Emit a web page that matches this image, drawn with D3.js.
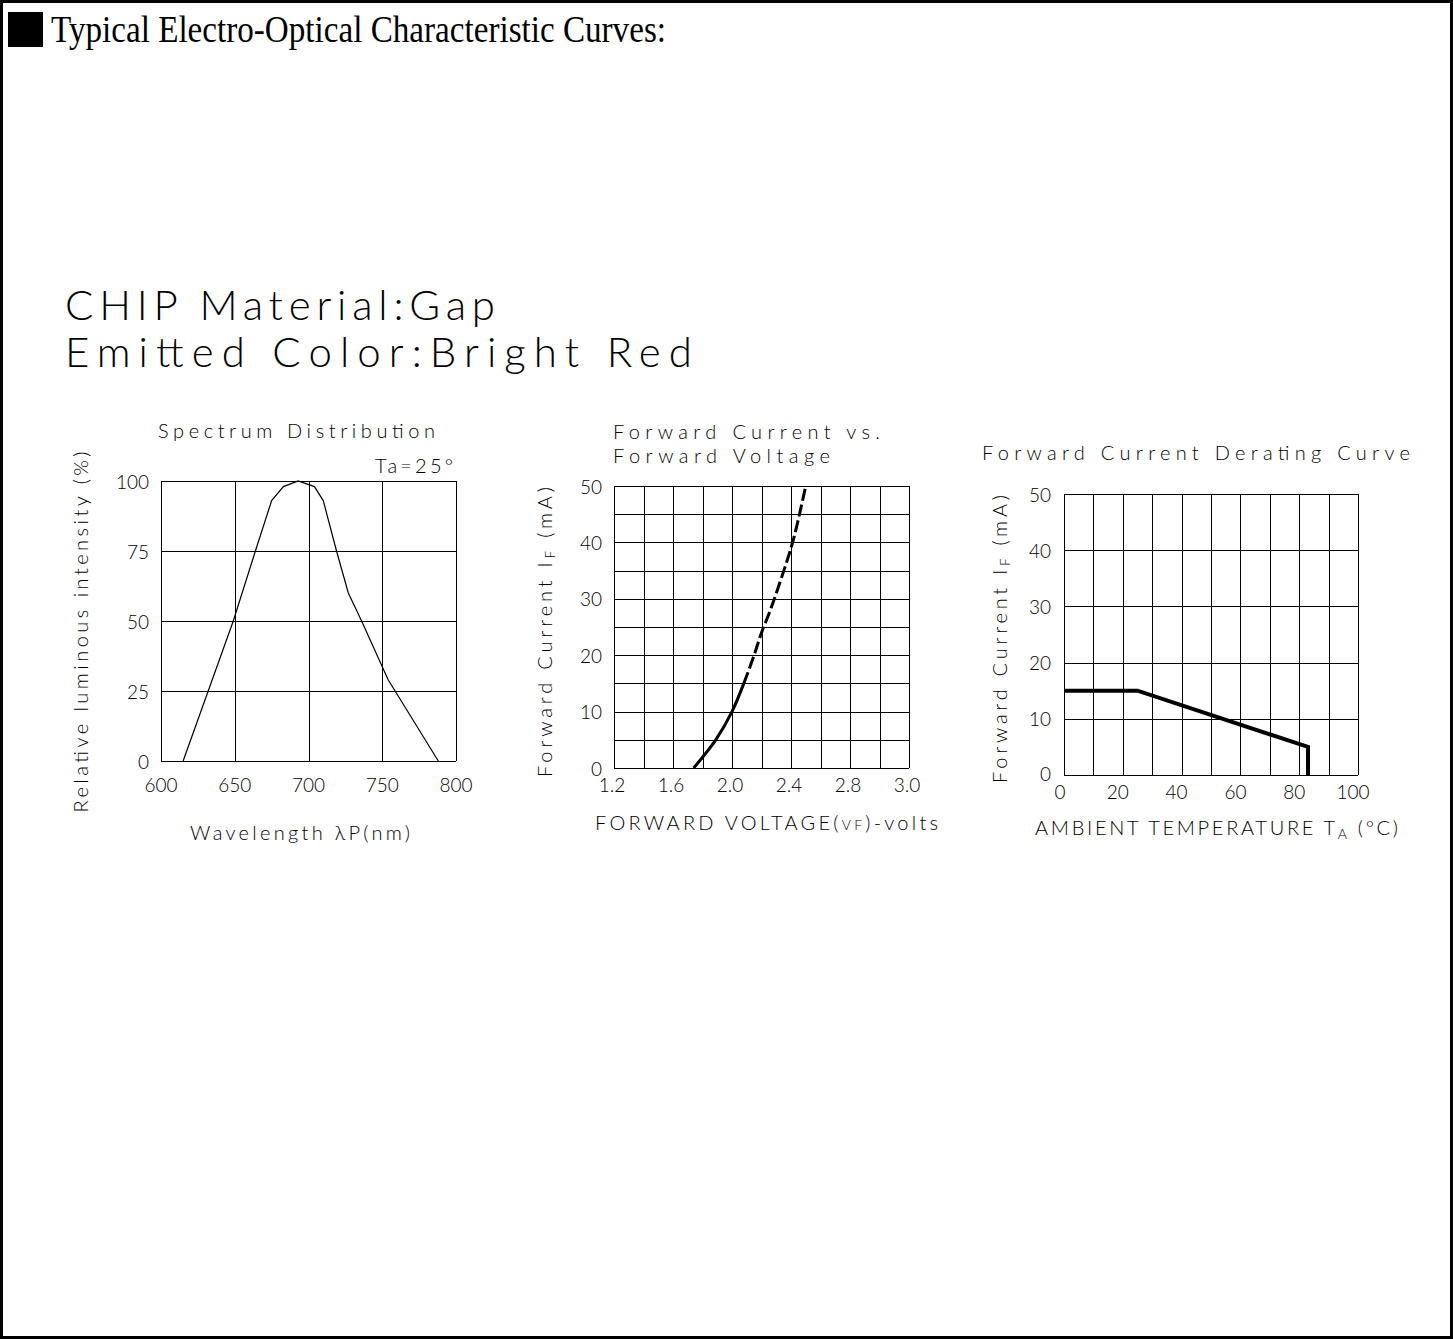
<!DOCTYPE html>
<html>
<head>
<meta charset="utf-8">
<script src="https://cdn.jsdelivr.net/npm/d3@7"></script>
<style>
  body { margin: 0; background: #fff; }
  svg { display: block; }
  .cad { font-family: Lato, "Open Sans", "DejaVu Sans", sans-serif; font-weight: 300; fill: #000; }
</style>
</head>
<body>
<svg id="page" width="1453" height="1339"></svg>
<script>
/* spectrum distribution */
const specWave = [615, 649, 664, 675, 683, 693, 704, 710, 719, 727, 736, 754, 788]
const specRel = [0, 50, 75, 93, 98, 100, 98, 93, 75, 60, 50, 29, 0]
const specXTicks = [600, 650, 700, 750, 800]
const specYTicks = [0, 25, 50, 75, 100]

/* forward current vs forward voltage */
const fvVolt = [1.74, 1.89, 2.0, 2.08, 2.15, 2.2, 2.26, 2.4, 2.44, 2.5]
const fvCurr = [0, 5, 10, 15, 20, 24, 28, 39, 43, 50]
const fvDashFrom = 3
const fvXGrid = [1.2, 1.4, 1.6, 1.8, 2.0, 2.2, 2.4, 2.6, 2.8, 3.0, 3.2]
const fvXLabels = ['1.2', '1.6', '2.0', '2.4', '2.8', '3.0']
const fvYGrid = [0, 5, 10, 15, 20, 25, 30, 35, 40, 45, 50]
const fvYLabels = [0, 10, 20, 30, 40, 50]

/* derating curve */
const drTemp = [0, 25, 83, 83]
const drCurr = [15, 15, 5, 0]
const drXGrid = [0, 10, 20, 30, 40, 50, 60, 70, 80, 90, 100]
const drXLabels = [0, 20, 40, 60, 80, 100]
const drYGrid = [0, 10, 20, 30, 40, 50]
const drYLabels = [0, 10, 20, 30, 40, 50]

const svg = d3.select('#page')
const TICK = 19

/* page frame + header */
svg.append('rect')
    .attr('x', 1.5).attr('y', 1.5)
    .attr('width', 1450).attr('height', 1336)
    .attr('fill', 'none').attr('stroke', '#000').attr('stroke-width', 3)

svg.append('rect')
    .attr('x', 8).attr('y', 12).attr('width', 35).attr('height', 35)
    .attr('fill', '#000')

svg.append('text')
    .attr('x', 51).attr('y', 42)
    .attr('font-family', '"Liberation Serif", "Times New Roman", serif')
    .attr('font-size', 38)
    .attr('textLength', 615)
    .attr('lengthAdjust', 'spacingAndGlyphs')
    .text('Typical Electro-Optical Characteristic Curves:')

/* chip text */
const chipLines = [['CHIP Material:Gap', 320, 430], ['Emitted Color:Bright Red', 367, 627]]
svg.selectAll('.chip')
    .data(chipLines)
    .join('text')
    .classed('cad', true)
    .attr('x', 65)
    .attr('y', d => d[1])
    .attr('font-size', 42)
    .attr('font-weight', 300)
    .attr('textLength', d => d[2])
    .attr('lengthAdjust', 'spacing')
    .text(d => d[0])

/* helper for cad-style text */
const label = (g, x, y, str, size, len, anchor) => {
    const t = g.append('text')
        .classed('cad', true)
        .attr('x', x).attr('y', y)
        .attr('font-size', size)
        .attr('text-anchor', anchor || 'start')
        .attr('dominant-baseline', 'central')
        .text(str)
    if (len) t.attr('textLength', len).attr('lengthAdjust', 'spacing')
    return t
}

/* grid + frame */
const drawGrid = (g, x, y, xs, ys) => {
    g.selectAll('.vg').data(xs).join('line').classed('vg', true)
        .attr('x1', d => Math.round(x(d)) + 0.5).attr('x2', d => Math.round(x(d)) + 0.5)
        .attr('y1', y.range()[0]).attr('y2', y.range()[1])
        .attr('stroke', '#000').attr('stroke-width', 1)
    g.selectAll('.hg').data(ys).join('line').classed('hg', true)
        .attr('y1', d => Math.round(y(d)) + 0.5).attr('y2', d => Math.round(y(d)) + 0.5)
        .attr('x1', x.range()[0]).attr('x2', x.range()[1])
        .attr('stroke', '#000').attr('stroke-width', 1)
}

/********** spectrum **********/
{
    const g = svg.append('g')
    const x = d3.scaleLinear().domain([600, 800]).range([161, 456])
    const y = d3.scaleLinear().domain([0, 100]).range([761, 481])
    drawGrid(g, x, y, specXTicks, specYTicks)

    g.append('path')
        .datum(d3.zip(specWave, specRel))
        .attr('d', d3.line().x(d => x(d[0])).y(d => y(d[1])))
        .attr('fill', 'none').attr('stroke', '#000').attr('stroke-width', 1.2)

    specYTicks.forEach(v => label(g, 149, y(v), String(v), TICK, null, 'end'))
    specXTicks.forEach(v => label(g, x(v), 784, String(v), TICK, null, 'middle'))

    label(g, 158, 430, 'Spectrum Distribution', 20, 277)
    label(g, 375, 465, 'Ta=25°', 20, 78)
    label(g, 190, 832, 'Wavelength λP(nm)', 20, 220)
    label(g, 0, 0, 'Relative luminous intensity (%)', 20, 361, 'middle')
        .attr('transform', 'translate(80,632) rotate(-90)')
}

/********** forward voltage **********/
{
    const g = svg.append('g')
    const x = d3.scaleLinear().domain([1.2, 3.2]).range([614, 909])
    const y = d3.scaleLinear().domain([0, 50]).range([768, 486])
    drawGrid(g, x, y, fvXGrid, fvYGrid)

    const pts = d3.zip(fvVolt, fvCurr)
    const line = d3.line().curve(d3.curveCatmullRom).x(d => x(d[0])).y(d => y(d[1]))
    g.append('path')
        .datum(pts.slice(0, fvDashFrom + 1))
        .attr('d', line)
        .attr('fill', 'none').attr('stroke', '#000').attr('stroke-width', 3)
    g.append('path')
        .datum(pts.slice(fvDashFrom))
        .attr('d', line)
        .attr('fill', 'none').attr('stroke', '#000').attr('stroke-width', 3)
        .attr('stroke-dasharray', '12,4')

    fvYLabels.forEach(v => label(g, 602, y(v), String(v), TICK, null, 'end'))
    fvXLabels.forEach((s, i) => label(g, x(1.2 + i * 0.4) - 2, 784, s, TICK, null, 'middle'))

    label(g, 613, 431, 'Forward Current vs.', 20, 267)
    label(g, 613, 455, 'Forward Voltage', 20, 217)
    const xt = label(g, 595, 822, 'FORWARD VOLTAGE(', 20, null)
    xt.append('tspan').attr('font-size', 14).attr('dy', 2).text('V')
    xt.append('tspan').attr('font-size', 14).text('F')
    xt.append('tspan').attr('dy', -2).text(')-volts')
    xt.attr('textLength', 343).attr('lengthAdjust', 'spacing')

    const yt = label(g, 0, 0, 'Forward Current I', 20, null, 'middle')
        .attr('transform', 'translate(544,632) rotate(-90)')
    yt.append('tspan').attr('font-size', 13).attr('dy', 6).text('F')
    yt.append('tspan').attr('dy', -6).text(' (mA)')
    yt.attr('textLength', 290).attr('lengthAdjust', 'spacing')
}

/********** derating **********/
{
    const g = svg.append('g')
    const x = d3.scaleLinear().domain([0, 100]).range([1064, 1358])
    const y = d3.scaleLinear().domain([0, 50]).range([775, 494])
    drawGrid(g, x, y, drXGrid, drYGrid)

    g.append('path')
        .datum(d3.zip(drTemp, drCurr))
        .attr('d', d3.line().x(d => x(d[0])).y(d => y(d[1])))
        .attr('fill', 'none').attr('stroke', '#000').attr('stroke-width', 4)
        .attr('stroke-linejoin', 'miter')

    drYLabels.forEach(v => label(g, 1051, v === 0 ? y(v) - 2 : y(v), String(v), TICK, null, 'end'))
    drXLabels.forEach(v => label(g, x(v) - (v === 0 ? 4 : 5), 791, String(v), TICK, null, 'middle'))

    label(g, 982, 452, 'Forward Current Derating Curve', 20, 428)
    const xt = label(g, 1035, 827, 'AMBIENT TEMPERATURE T', 20, null)
    xt.append('tspan').attr('font-size', 14).attr('dy', 6).text('A')
    xt.append('tspan').attr('dy', -6).text(' (°C)')
    xt.attr('textLength', 363).attr('lengthAdjust', 'spacing')

    const yt = label(g, 0, 0, 'Forward Current I', 20, null, 'middle')
        .attr('transform', 'translate(999,639) rotate(-90)')
    yt.append('tspan').attr('font-size', 13).attr('dy', 6).text('F')
    yt.append('tspan').attr('dy', -6).text(' (mA)')
    yt.attr('textLength', 288).attr('lengthAdjust', 'spacing')
}
</script>
</body>
</html>
